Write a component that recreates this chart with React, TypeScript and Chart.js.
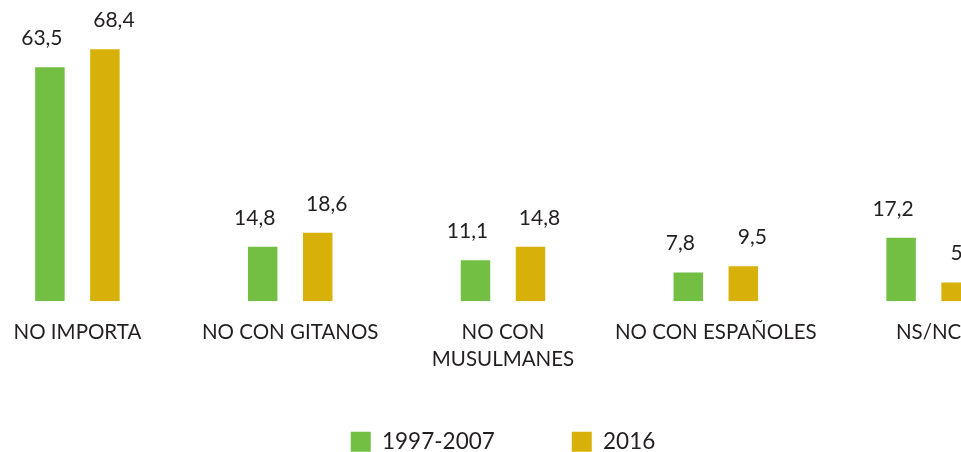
import React, { useEffect, useRef } from "react";
import { Chart, registerables } from "chart.js";

Chart.register(...registerables);

const categories: (string | string[])[] = [
  "NO IMPORTA",
  "NO CON GITANOS",
  ["NO CON", "MUSULMANES"],
  "NO CON ESPAÑOLES",
  "NS/NC",
];
const series1Label = "1997-2007";
const series2Label = "2016";
const series1Values = [63.5, 14.8, 11.1, 7.8, 17.2];
const series2Values = [68.4, 18.6, 14.8, 9.5, 5.1];

const GREEN = "#72bf44";
const GOLD = "#d8b00a";
const TEXT = "#231f20";
const FONT = "Lato, 'Noto Sans', sans-serif";

const labelPlugin = {
  id: "valueLabels",
  afterDatasetsDraw(chart: any) {
    const ctx = chart.ctx;
    ctx.save();
    ctx.font = `21px ${FONT}`;
    ctx.fillStyle = TEXT;
    ctx.textAlign = "center";
    ctx.textBaseline = "alphabetic";
    chart.data.datasets.forEach((ds: any, di: number) => {
      const meta = chart.getDatasetMeta(di);
      const dx = di === 0 ? -8 : 9;
      meta.data.forEach((bar: any, i: number) => {
        const v = ds.data[i];
        const txt = v.toFixed(1).replace(".", ",");
        ctx.fillText(txt, bar.x + dx, bar.y - 22);
      });
    });
    ctx.restore();
  },
};

// Pull the legend a little closer to the axis labels.
const legendShift = {
  id: "legendShift",
  afterLayout(chart: any) {
    const lg = chart.legend;
    if (lg) {
      lg.top -= 29;
      lg.bottom -= 29;
    }
  },
};

export default function App() {
  const ref = useRef<HTMLCanvasElement>(null);
  useEffect(() => {
    document.body.style.margin = "0";
    const chart = new Chart(ref.current!, {
      type: "bar",
      data: {
        labels: categories,
        datasets: [
          {
            label: series1Label,
            data: series1Values,
            backgroundColor: GREEN,
            categoryPercentage: 0.517,
            barPercentage: 0.536,
          },
          {
            label: series2Label,
            data: series2Values,
            backgroundColor: GOLD,
            categoryPercentage: 0.517,
            barPercentage: 0.536,
          },
        ],
      },
      options: {
        animation: false,
        responsive: false,
        maintainAspectRatio: false,
        layout: { padding: { top: 25, left: 0, right: 0, bottom: 0 } },
        plugins: {
          tooltip: { enabled: false },
          legend: {
            position: "bottom",
            labels: {
              boxWidth: 20,
              boxHeight: 20,
              padding: 77,
              color: TEXT,
              font: { family: FONT, size: 22.5 },
            },
          },
        },
        scales: {
          x: {
            grid: { display: false },
            border: { display: false },
            ticks: {
              color: TEXT,
              font: { family: FONT, size: 20.5, lineHeight: 1.3 },
              padding: 10,
              maxRotation: 0,
              autoSkip: false,
            },
          },
          y: {
            display: false,
            min: 0,
            max: 75,
          },
        },
      },
      plugins: [labelPlugin, legendShift],
    });
    return () => chart.destroy();
  }, []);
  return (
    <div
      style={{
        position: "relative",
        width: 961,
        height: 452,
        overflow: "hidden",
        background: "#fff",
      }}
    >
      <canvas
        ref={ref}
        width={1064}
        height={492}
        style={{ position: "absolute", left: -29, top: 0, width: 1064, height: 492 }}
      />
    </div>
  );
}
